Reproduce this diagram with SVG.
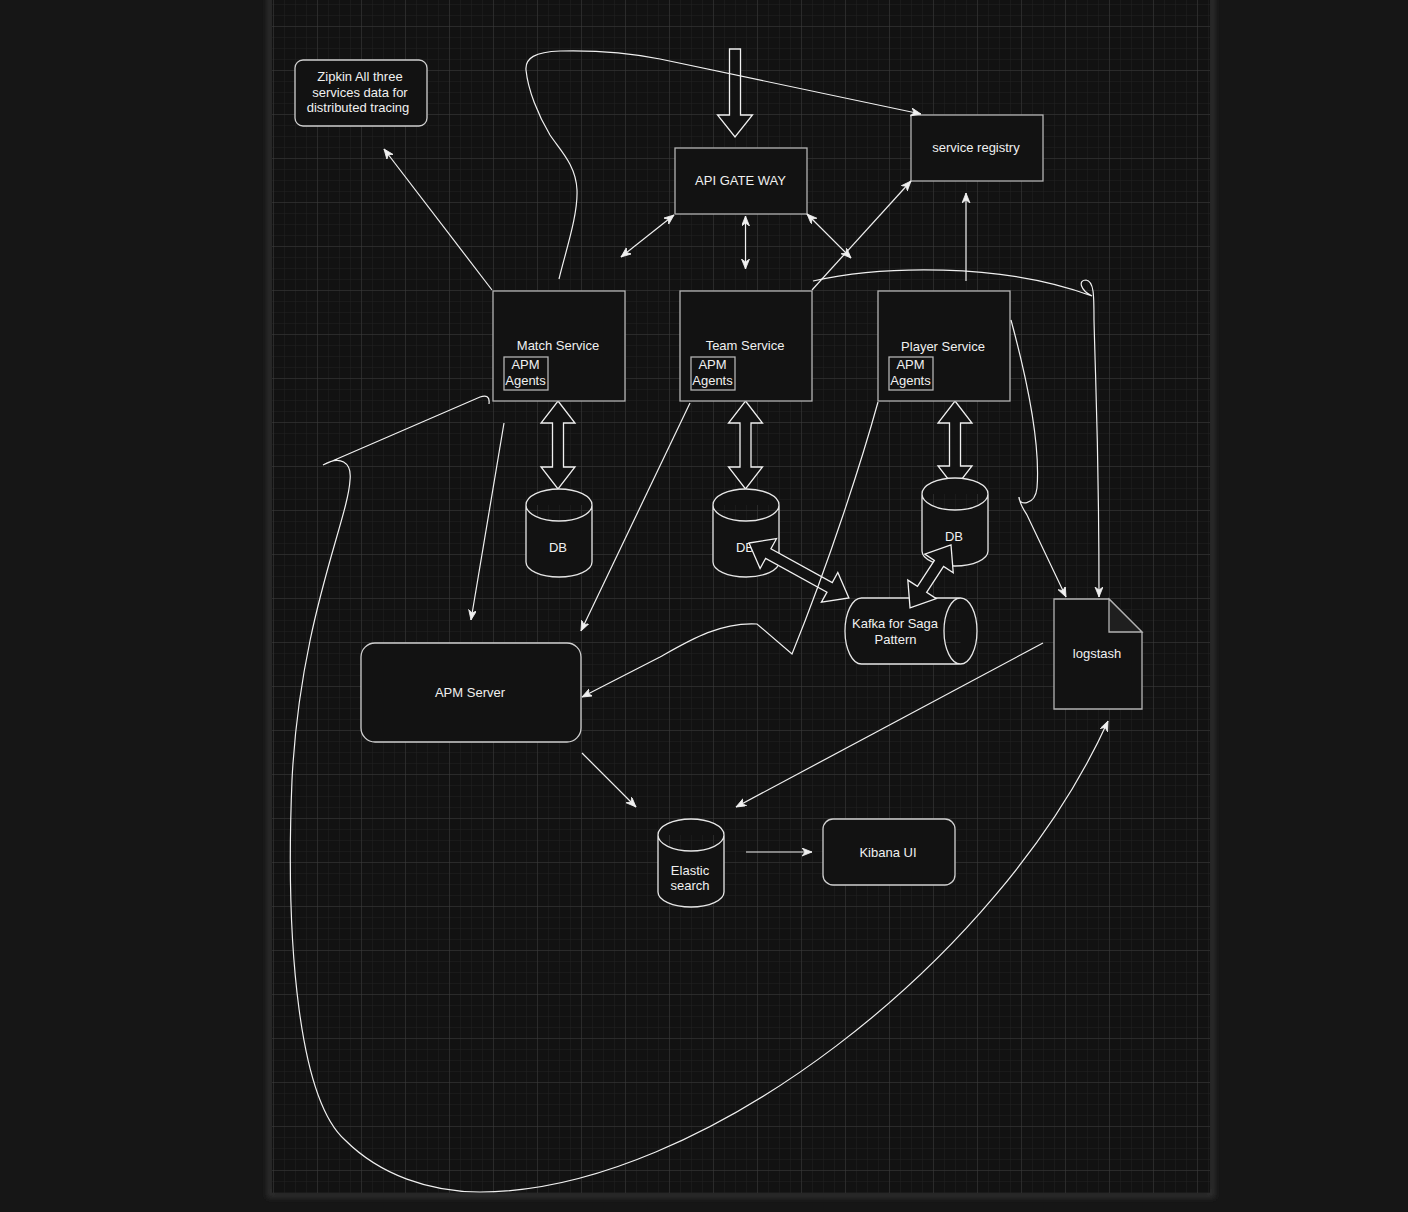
<svg xmlns="http://www.w3.org/2000/svg" width="1408" height="1212" viewBox="0 0 1408 1212">
<style>
text{font-family:"Liberation Sans",Arial,sans-serif;font-size:13px;fill:#f0f0f0;text-anchor:middle;dominant-baseline:central}
.box{fill:#121212;stroke:#b3b3b3;stroke-width:1.3}
.rbox{fill:#121212;stroke:#d0d0d0;stroke-width:1.3}
.cyl{fill:#121212;stroke:#e6e6e6;stroke-width:1.3}
.edge{fill:none;stroke:#f0f0f0;stroke-width:1.2}
.blk{fill:#121212;stroke:#f0f0f0;stroke-width:1.3;stroke-linejoin:miter}
</style>
<defs>
<pattern id="minor" x="273" y="26" width="11" height="11" patternUnits="userSpaceOnUse">
<path d="M0,0 V11 M0,0 H11" fill="none" stroke="#212121" stroke-width="1"/>
</pattern>
<pattern id="major" x="273" y="26" width="44" height="44" patternUnits="userSpaceOnUse">
<path d="M0,0 V44 M0,0 H44" fill="none" stroke="#3a3a3a" stroke-width="1"/>
</pattern>
<marker id="arr" markerWidth="11" markerHeight="9" refX="10" refY="4" orient="auto-start-reverse" markerUnits="userSpaceOnUse" viewBox="0 0 11 9">
<path d="M0,0 L10,4 L0,8 L3,4 Z" fill="#f0f0f0" stroke="#f0f0f0" stroke-width="0.8"/>
</marker>
<filter id="sh" x="-5%" y="-5%" width="110%" height="110%">
<feGaussianBlur stdDeviation="3"/>
</filter>
</defs>
<rect x="0" y="0" width="1408" height="1212" fill="#161616"/>
<rect x="270" y="-10" width="942" height="1205" fill="none" stroke="#3a3a3a" stroke-width="4" filter="url(#sh)"/>
<rect x="272" y="-5" width="938" height="1198" fill="#121212"/>
<rect x="272" y="-5" width="938" height="1198" fill="url(#minor)"/>
<rect x="272" y="-5" width="938" height="1198" fill="url(#major)"/>

<g id="block-arrows">
<polygon class="blk" points="729.5,49 740.5,49 740.5,115 752.5,115 735,137 717.5,115 729.5,115"/>
<polygon class="blk" transform="translate(558,401) rotate(90)" points="0,0 22,-17 22,-5.5 66,-5.5 66,-17 88,0 66,17 66,5.5 22,5.5 22,17"/>
<polygon class="blk" transform="translate(745.5,401) rotate(90)" points="0,0 22,-17 22,-5.5 66,-5.5 66,-17 88,0 66,17 66,5.5 22,5.5 22,17"/>
<polygon class="blk" transform="translate(955,401) rotate(90)" points="0,0 22,-17 22,-5.5 65,-5.5 65,-17 87,0 65,17 65,5.5 22,5.5 22,17"/>
</g>

<g id="zipkin">
<rect class="rbox" x="295" y="60" width="132" height="66" rx="8"/>
<text x="360" y="76.5">Zipkin All three</text>
<text x="360" y="92">services data for</text>
<text x="358" y="107.5">distributed tracing</text>
</g>
<g id="api-gateway">
<rect class="box" x="675" y="148" width="132" height="66"/>
<text x="740.5" y="180">API GATE WAY</text>
</g>
<g id="service-registry">
<rect class="box" x="911" y="115" width="132" height="66"/>
<text x="976" y="147.5">service registry</text>
</g>
<g id="match-service">
<rect class="box" x="493" y="291" width="132" height="110"/>
<text x="558" y="345">Match Service</text>
<rect class="box" x="504" y="357" width="44" height="33"/>
<text x="525.5" y="364.5">APM</text>
<text x="525.5" y="380.5">Agents</text>
</g>
<g id="team-service">
<rect class="box" x="680" y="291" width="132" height="110"/>
<text x="745" y="345">Team Service</text>
<rect class="box" x="691" y="357" width="44" height="33"/>
<text x="712.5" y="364.5">APM</text>
<text x="712.5" y="380.5">Agents</text>
</g>
<g id="player-service">
<rect class="box" x="878" y="291" width="132" height="110"/>
<text x="943" y="346">Player Service</text>
<rect class="box" x="889" y="357" width="44" height="33"/>
<text x="910.5" y="364.5">APM</text>
<text x="910.5" y="380.5">Agents</text>
</g>
<g id="match-db">
<path class="cyl" d="M526,505 A33,16 0 0 1 592,505 L592,562 A33,15 0 0 1 526,562 Z M526,505 A33,16 0 0 0 592,505"/>
<text x="558" y="547">DB</text>
</g>
<g id="team-db">
<path class="cyl" d="M713,505 A33,16 0 0 1 779,505 L779,562 A33,15 0 0 1 713,562 Z M713,505 A33,16 0 0 0 779,505"/>
<text x="745" y="547">DB</text>
</g>
<g id="player-db">
<path class="cyl" d="M922,494 A33,16 0 0 1 988,494 L988,551 A33,15 0 0 1 922,551 Z M922,494 A33,16 0 0 0 988,494"/>
<text x="954" y="536.5">DB</text>
</g>
<g id="kafka">
<path class="cyl" d="M861.5,598 L960.5,598 A16.5,33 0 0 1 960.5,664 L861.5,664 A16.5,33 0 0 1 861.5,598 Z M960.5,598 A16.5,33 0 0 0 960.5,664"/>
<text x="895" y="623.5">Kafka for Saga</text>
<text x="895.5" y="639.5">Pattern</text>
</g>
<g id="db-kafka-arrows">
<polygon class="blk" transform="translate(749,543) rotate(28.8)" points="0,0 22,-17 22,-5.5 92,-5.5 92,-17 114,0 92,17 92,5.5 22,5.5 22,17"/>
<polygon class="blk" transform="translate(951,545) rotate(123.1)" points="0,0 22,-17 22,-5.5 53,-5.5 53,-17 75,0 53,17 53,5.5 22,5.5 22,17"/>
</g>
<g id="logstash">
<path class="box" d="M1054,599 L1109,599 L1142,632 L1142,709 L1054,709 Z"/>
<path d="M1109,599 L1109,632 L1142,632 Z" fill="#1f1f1f" stroke="#b3b3b3" stroke-width="1.3"/>
<text x="1097" y="653.5">logstash</text>
</g>
<g id="apm-server">
<rect class="rbox" x="361" y="643" width="220" height="99" rx="14"/>
<text x="470" y="692.5">APM Server</text>
</g>
<g id="elasticsearch">
<path class="cyl" d="M658,835 A33,16 0 0 1 724,835 L724,892 A33,15 0 0 1 658,892 Z M658,835 A33,16 0 0 0 724,835"/>
<text x="690" y="870">Elastic</text>
<text x="690" y="885.5">search</text>
</g>
<g id="kibana">
<rect class="rbox" x="823" y="819" width="132" height="66" rx="10"/>
<text x="888" y="852">Kibana UI</text>
</g>

<g id="connectors">
<path class="edge" marker-end="url(#arr)" d="M492,290 L384,149"/>
<path class="edge" marker-end="url(#arr)" d="M559,279 C566,250 578,215 577,190 C576,165 560,150 550,135 C538,115 528,90 526,70 C525,58 535,52 560,51 C600,50 630,53 660,59 L921,114"/>
<path class="edge" marker-start="url(#arr)" marker-end="url(#arr)" d="M674,215 L621,257"/>
<path class="edge" marker-start="url(#arr)" marker-end="url(#arr)" d="M745.5,216 L745.5,269"/>
<path class="edge" marker-start="url(#arr)" marker-end="url(#arr)" d="M807,214 L851,258"/>
<path class="edge" marker-end="url(#arr)" d="M812,290 L911,181"/>
<path class="edge" marker-end="url(#arr)" d="M966,281 L966,193"/>
<path class="edge" marker-end="url(#arr)" d="M813,281 C880,266 1000,262 1092,296 C1080,290 1078,280 1086,280 C1094,281 1094,295 1094,320 C1096,400 1099,450 1099,597"/>
<path class="edge" marker-end="url(#arr)" d="M1011,320 C1030,390 1040,450 1037,488 C1035,506 1018,506 1019,497 C1020,505 1024,510 1027,515 L1066,597"/>
<path class="edge" marker-end="url(#arr)" d="M504,423 L471,620"/>
<path class="edge" marker-end="url(#arr)" d="M690,403 L581,631"/>
<path class="edge" marker-end="url(#arr)" d="M878,402 C862,460 830,560 792,654 L757,624 C720,622 690,640 660,657 L582,697"/>
<path class="edge" marker-end="url(#arr)" d="M489,404 C490,396 486,395 480,397 L323,465 C340,455 352,462 350,480 C348,520 300,620 292,780 C285,950 300,1100 345,1140 C380,1175 430,1192 480,1192 C700,1192 1000,960 1108,721"/>
<path class="edge" marker-end="url(#arr)" d="M582,753 L636,807"/>
<path class="edge" marker-end="url(#arr)" d="M1043,643 L736,807"/>
<path class="edge" marker-end="url(#arr)" d="M746,852 L812,852"/>
</g>
</svg>
